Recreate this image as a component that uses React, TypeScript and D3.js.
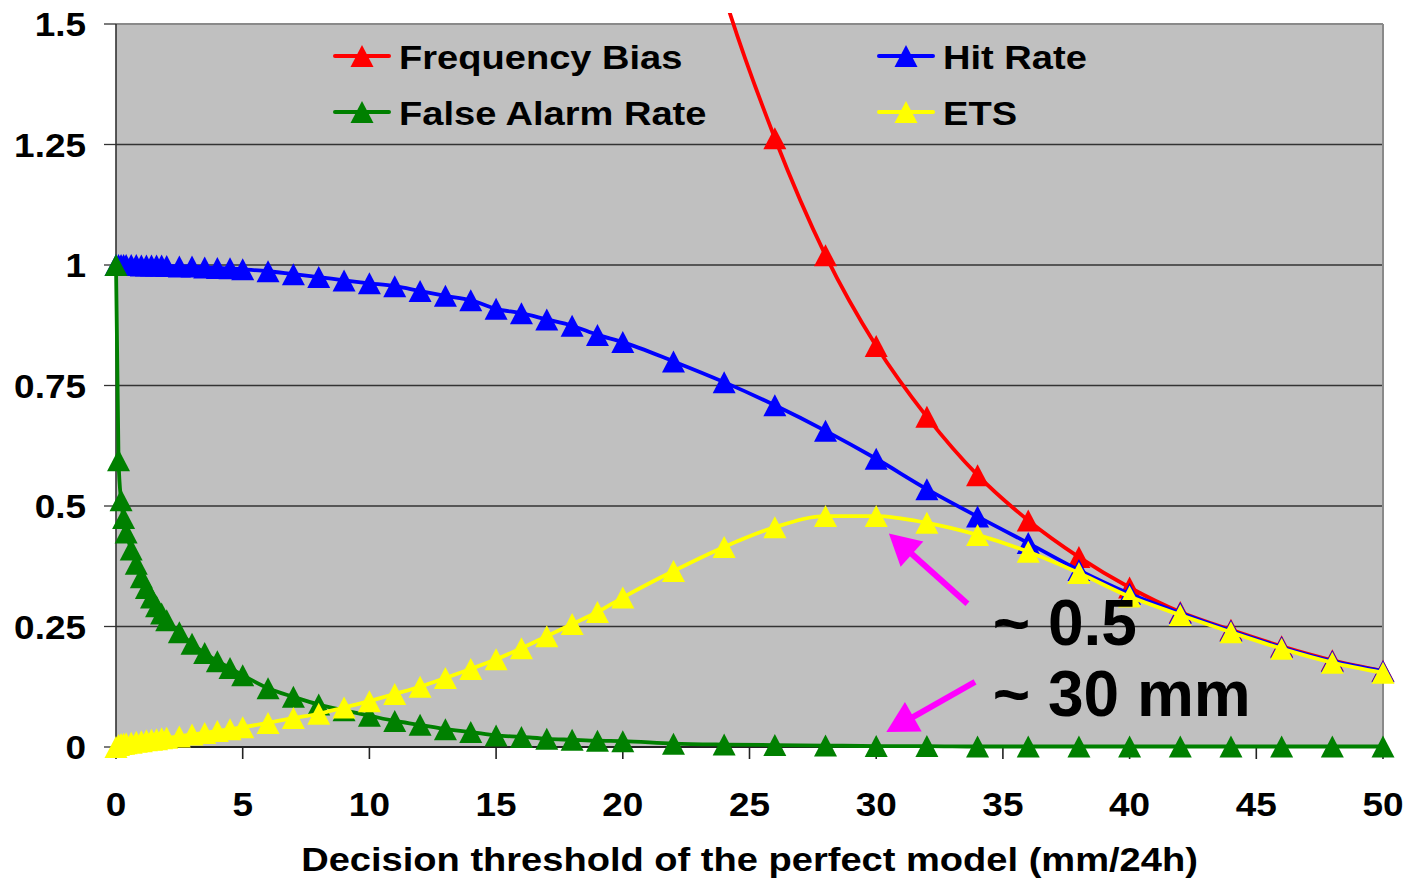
import React from 'react';
import * as d3 from 'd3';

// decision thresholds (mm/24h) of the perfect model
const thresholds = [
  0, 0.1, 0.2, 0.3, 0.4, 0.6, 0.8, 1, 1.2, 1.4, 1.6, 1.8, 2,
  2.5, 3, 3.5, 4, 4.5, 5,
  6, 7, 8, 9, 10, 11, 12, 13, 14, 15, 16, 17, 18, 19, 20,
  22, 24, 26, 28, 30, 32, 34, 36, 38, 40, 42, 44, 46, 48, 50,
];

const hitRate = [
  1.0, 1.0, 1.0, 1.0, 1.0, 1.0, 1.0, 0.999, 0.999, 0.999, 0.999, 0.999, 0.998,
  0.997, 0.997, 0.995, 0.994, 0.993, 0.991,
  0.987, 0.981, 0.975, 0.968, 0.962, 0.956, 0.946, 0.936, 0.927, 0.909, 0.9, 0.887, 0.874, 0.855, 0.84,
  0.8, 0.757, 0.709, 0.656, 0.598, 0.535, 0.478, 0.423, 0.367, 0.318, 0.278, 0.241, 0.207, 0.178, 0.157,
];

const falseAlarmRate = [
  1.0, 0.595, 0.512, 0.475, 0.445, 0.41, 0.38, 0.352, 0.33, 0.31, 0.292, 0.277, 0.263,
  0.238, 0.214, 0.195, 0.178, 0.164, 0.149,
  0.122, 0.104, 0.088, 0.076, 0.065, 0.054, 0.046, 0.037, 0.031, 0.024, 0.021, 0.017, 0.015, 0.013, 0.012,
  0.007, 0.005, 0.004, 0.003, 0.002, 0.002, 0.001, 0.001, 0.001, 0.001, 0.001, 0.001, 0.001, 0.001, 0.001,
];

const ets = [
  0, 0.004, 0.006, 0.007, 0.008, 0.009, 0.011, 0.012, 0.014, 0.015, 0.016, 0.018, 0.019,
  0.022, 0.026, 0.029, 0.033, 0.037, 0.041,
  0.05, 0.06, 0.069, 0.082, 0.095, 0.11, 0.125, 0.143, 0.162, 0.182, 0.205, 0.23, 0.255, 0.28, 0.31,
  0.365, 0.415, 0.456, 0.479, 0.479, 0.465, 0.44, 0.405, 0.361, 0.312, 0.274, 0.238, 0.204, 0.175, 0.154,
];

// frequency bias only comes into range near 24 mm
const biasThresholds = [22, 24, 26, 28, 30, 32, 34, 36, 38, 40, 42, 44, 46, 48, 50];
const frequencyBias = [1.95, 1.56, 1.263, 1.02, 0.832, 0.685, 0.564, 0.47, 0.394, 0.331, 0.28, 0.243, 0.209, 0.18, 0.158];

const xTicks = [0, 5, 10, 15, 20, 25, 30, 35, 40, 45, 50];
const yTicks = [0, 0.25, 0.5, 0.75, 1, 1.25, 1.5];
const yTickLabels = ['0', '0.25', '0.5', '0.75', '1', '1.25', '1.5'];

const font = '"Liberation Sans", Arial, Helvetica, sans-serif';
const tri = 'M0,-11L11.5,11L-11.5,11Z';

export default function App() {
  const W = 1407;
  const H = 880;
  const left = 116, right = 1383, top = 24, bottom = 747;

  const x = d3.scaleLinear().domain([0, 50]).range([left, right]);
  const y = d3.scaleLinear().domain([0, 1.5]).range([bottom, top]);

  const line = d3.line<[number, number]>()
    .x(d => x(d[0]))
    .y(d => y(d[1]))
    .curve(d3.curveMonotoneX);

  const series = [
    { name: 'Frequency Bias', xs: biasThresholds, ys: frequencyBias, color: '#ff0000' },
    { name: 'Hit Rate', xs: thresholds, ys: hitRate, color: '#0000ff' },
    { name: 'False Alarm Rate', xs: thresholds, ys: falseAlarmRate, color: '#008000' },
    { name: 'ETS', xs: thresholds, ys: ets, color: '#ffff00' },
  ];

  // legend: two columns, two rows
  const legendCols = [335, 879];
  const legendRows = [56, 112];

  // magenta arrows in data coordinates (start -> tip)
  const arrows = [
    { from: [33.6, 0.297], to: [30.5, 0.443] },
    { from: [33.9, 0.135], to: [30.4, 0.031] },
  ];
  const arrowParts = arrows.map(a => {
    const x0 = x(a.from[0]), y0 = y(a.from[1]);
    const x1 = x(a.to[0]), y1 = y(a.to[1]);
    const len = Math.hypot(x1 - x0, y1 - y0);
    const ux = (x1 - x0) / len, uy = (y1 - y0) / len;
    const hl = 31, hw = 17;
    const bx = x1 - ux * hl, by = y1 - uy * hl;
    return {
      shaft: `M${x0},${y0}L${bx + ux * 2},${by + uy * 2}`,
      head: `M${x1},${y1}L${bx - uy * hw},${by + ux * hw}L${bx + uy * hw},${by - ux * hw}Z`,
    };
  });

  const sx = 1.12;

  return (
    <div style={{ position: 'absolute', left: 0, top: 0 }}>
      <svg width={W} height={H} style={{ display: 'block', background: '#fff' }}>
        <defs>
          <clipPath id="chartClip">
            <rect x={0} y={13} width={W} height={H - 13} />
          </clipPath>
        </defs>

        <rect x={left} y={top} width={right - left} height={bottom - top} fill="#c0c0c0" />

        {yTicks.filter(t => t > 0 && t < 1.5).map(t => (
          <line key={'g' + t} x1={left} x2={right} y1={y(t)} y2={y(t)} stroke="#333" strokeWidth={1.3} />
        ))}
        <line x1={left} x2={right} y1={top} y2={top} stroke="#8a8a8a" strokeWidth={2} />
        <line x1={right} x2={right} y1={top} y2={bottom} stroke="#8a8a8a" strokeWidth={2} />

        {/* axes */}
        <line x1={left} x2={left} y1={top} y2={bottom} stroke="#333" strokeWidth={1.6} />
        <line x1={left} x2={right} y1={bottom} y2={bottom} stroke="#222" strokeWidth={1.8} />
        {yTicks.map(t => (
          <line key={'yt' + t} x1={left - 12} x2={left} y1={y(t)} y2={y(t)} stroke="#333" strokeWidth={1.3} />
        ))}
        {xTicks.map(t => (
          <line key={'xt' + t} x1={x(t)} x2={x(t)} y1={bottom} y2={bottom + 12} stroke="#222" strokeWidth={1.6} />
        ))}

        {yTicks.map((t, i) => (
          <text key={'yl' + t} transform={`translate(86,${y(t) + 12}) scale(${sx},1)`}
            textAnchor="end" fontFamily={font} fontWeight="bold" fontSize={33} fill="#000">
            {yTickLabels[i]}
          </text>
        ))}
        {xTicks.map(t => (
          <text key={'xl' + t} transform={`translate(${x(t)},816) scale(${sx},1)`}
            textAnchor="middle" fontFamily={font} fontWeight="bold" fontSize={33} fill="#000">
            {t}
          </text>
        ))}
        <text transform={`translate(${(left + right) / 2},871) scale(${sx},1)`}
          textAnchor="middle" fontFamily={font} fontWeight="bold" fontSize={34} fill="#000">
          Decision threshold of the perfect model (mm/24h)
        </text>

        {/* series */}
        <g clipPath="url(#chartClip)">
          {series.map(s => {
            const pts = s.xs.map((v, i) => [v, s.ys[i]] as [number, number]);
            return (
              <g key={s.name}>
                <path d={line(pts) || ''} fill="none" stroke={s.color} strokeWidth={3.8} strokeLinejoin="round" />
                {pts.map((p, i) => (
                  <path key={i} d={tri} transform={`translate(${x(p[0])},${y(p[1])})`} fill={s.color} />
                ))}
              </g>
            );
          })}
        </g>

        {/* legend */}
        {series.map((s, i) => {
          const lx = legendCols[i % 2 === 0 ? 0 : 1];
          const ly = legendRows[i < 2 ? 0 : 1];
          return (
            <g key={'lg' + s.name}>
              <line x1={lx} x2={lx + 54} y1={ly} y2={ly} stroke={s.color} strokeWidth={4} strokeLinecap="round" />
              <path d={tri} transform={`translate(${lx + 27},${ly})`} fill={s.color} />
              <text transform={`translate(${lx + 64},${ly + 13}) scale(${sx},1)`}
                fontFamily={font} fontWeight="bold" fontSize={34} fill="#000">
                {s.name}
              </text>
            </g>
          );
        })}

        {/* annotation */}
        {arrowParts.map((a, i) => (
          <g key={'ar' + i}>
            <path d={a.shaft} stroke="#ff00ff" strokeWidth={6} fill="none" />
            <path d={a.head} fill="#ff00ff" />
          </g>
        ))}
        <text x={x(34.6)} y={y(0.212)} fontFamily={font} fontWeight="bold" fontSize={64} fill="#000">~ 0.5</text>
        <text x={x(34.6)} y={y(0.064)} fontFamily={font} fontWeight="bold" fontSize={64} fill="#000">~ 30 mm</text>
      </svg>
    </div>
  );
}
